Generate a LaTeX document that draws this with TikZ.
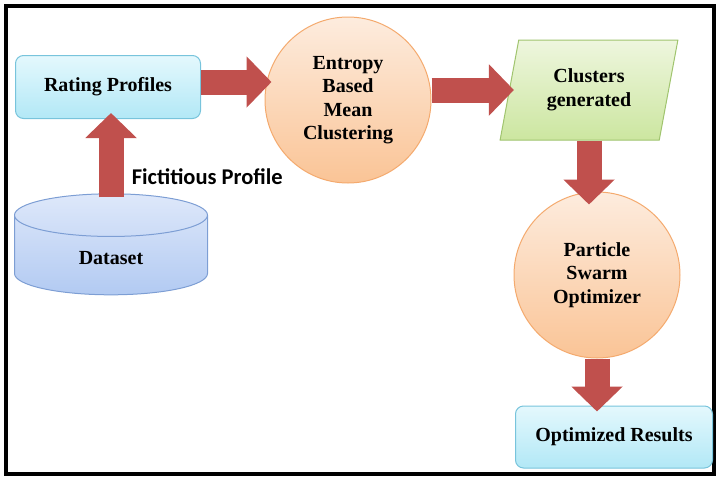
\documentclass[tikz,border=0pt]{standalone}
\usepackage{fontspec}
\setmainfont{Liberation Serif}
\newfontfamily\labelfont{Carlito}
\usepackage{tikz}
\usetikzlibrary{arrows.meta}
\usetikzlibrary{positioning}
\usetikzlibrary{shapes.geometric}
\definecolor{arrowred}{RGB}{192,80,77}
\definecolor{boxtop}{RGB}{228,248,253}
\definecolor{boxbot}{RGB}{178,232,246}
\definecolor{boxline}{RGB}{120,196,220}
\definecolor{peachtop}{RGB}{253,236,222}
\definecolor{peachbot}{RGB}{250,196,150}
\definecolor{peachline}{RGB}{244,170,110}
\definecolor{greentop}{RGB}{238,246,222}
\definecolor{greenbot}{RGB}{204,230,160}
\definecolor{greenline}{RGB}{160,196,110}
\definecolor{bluetop}{RGB}{222,232,250}
\definecolor{bluebot}{RGB}{178,202,242}
\definecolor{blueline}{RGB}{125,158,212}
\tikzset{
    txt/.style = {font=\bfseries\fontsize{20}{23.5}\selectfont, align=center},
    roundbox/.style = {txt, draw=boxline, line width=1pt, rounded corners=8pt, top color=boxtop, bottom color=boxbot},
    stage/.style = {txt, circle, draw=peachline, line width=1pt, minimum size=166pt, inner sep=0pt, top color=peachtop, bottom color=peachbot},
    iobox/.style = {txt, trapezium, trapezium left angle=76, trapezium right angle=104, trapezium stretches=true, draw=greenline, line width=1pt, minimum width=178pt, minimum height=100pt, top color=greentop, bottom color=greenbot},
    store/.style = {txt, cylinder, shape border rotate=90, aspect=0.6, draw=blueline, line width=1pt, minimum width=193pt, minimum height=101pt, top color=bluetop, bottom color=bluebot},
    flow/.style = {arrowred, line width=25pt, -{Triangle[length=25pt, width=50pt]}},
}
\begin{document}
\begin{tikzpicture}[x=1pt, y=-1pt]
    \useasboundingbox (0,0) rectangle (716,480);
    \draw[line width=4pt] (6,6) rectangle (714,474);
    % boxes
    \node[roundbox, minimum width=185pt, minimum height=63pt] (rating) at (108,87) {Rating Profiles};
    \node[stage] (entropy) at (348,100) {Entropy\\Based\\Mean\\Clustering};
    \node[iobox] (clusters) at (589,90) {Clusters\\generated};
    \node[stage] (pso) at (597,275) {Particle\\Swarm\\Optimizer};
    \node[roundbox, minimum width=197pt, minimum height=62pt] (results) at (614,437) {Optimized Results};
    \node[store] (data) at (111,258) {Dataset};
    % arrows
    \draw[flow, shorten >=-7pt] ([yshift=5pt]rating.east) -- ([yshift=5pt]rating.east -| entropy.west);
    \draw[flow, shorten >=-5pt] (entropy.east |- clusters.west) -- (clusters.west);
    \draw[flow, shorten >=-13pt] (clusters.south) -- (clusters.south |- pso.north);
    \draw[flow, shorten >=-6pt] (pso.south) -- (pso.south |- results.north);
    \draw[flow, shorten <=-4pt, shorten >=-6pt] (data.north) -- (data.north |- rating.south)
        node[pos=0.22, right=5pt, font=\labelfont\bfseries\fontsize{22.5}{26}\selectfont, text=black] {Fictitious Profile};
\end{tikzpicture}
\end{document}
